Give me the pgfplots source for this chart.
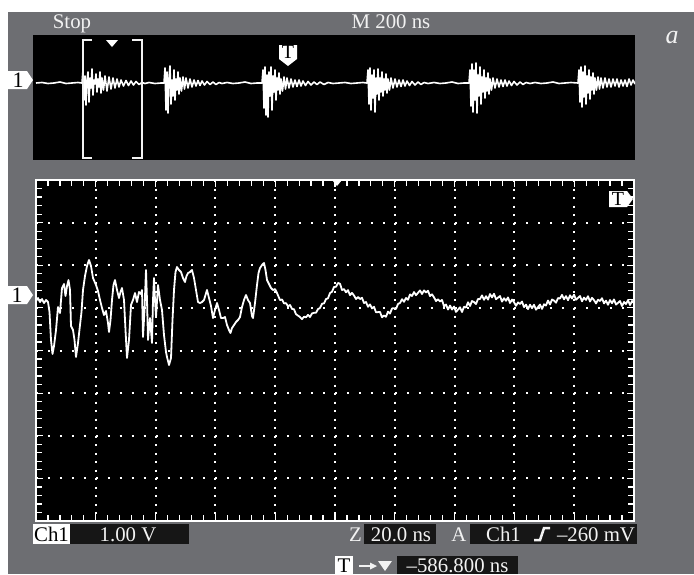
\documentclass[border=0pt]{standalone}
\usepackage{pgfplots}
\pgfplotsset{compat=1.18}
\usepackage{fontspec}
\setmainfont{Liberation Serif}
\definecolor{scopegray}{RGB}{109,110,114}
\definecolor{txt}{RGB}{242,242,242}
\definecolor{boxblk}{RGB}{22,22,22}
\begin{document}
\begin{tikzpicture}[x=0.5pt,y=-0.5pt]
\fill[white] (0,0) rectangle (694,574);
\fill[scopegray] (8,12) rectangle (694,574);
\fill[black] (33,35) rectangle (635,160);
\fill[black] (36,180) rectangle (634,521);
% ---------- upper (overview) trace ----------
\begin{axis}[at={(16.5pt,-80pt)},anchor=south west,scale only axis,
  width=301pt,height=62.5pt,xmin=33,xmax=635,ymin=35,ymax=160,
  y dir=reverse,hide axis]
\addplot[white,line width=0.8pt,line join=round] coordinates {
(36,83)(42,82.5)(48,83.5)(54,83)(60,82)(66,83.5)(72,83)(78,82.5)(82,83)
(83,70)(84,100)(85,76)(86,105)(87,80)(88,72)(89,102)(90,78)(91,88)(92,69)(93,95)(94,80)(95,84)(96,74)(97,92)(98,79)(99,87)(100,72)(101,93)(102,78)(103.5,90)(105,76)(107,91)(109,77)(111,89)(113,78)(115,88)(117,79)(119,87)(121,80)(123.5,86)(126,80.5)(128.5,85.5)(131,81)(133.5,85)(136,81.5)(139,84.5)(142,82.5)(145,83.5)
(149,82.5)(155,83.5)(161,83)(164,83)
(165,68)(166,110)(167,72)(168,113)(169,78)(170,66)(171,104)(172,80)(173,96)(174,70)(175,100)(176,79)(177,90)(178,72)(179,94)(180,78)(181.5,91)(183,77)(184.5,89)(186,78)(188,88)(190,79)(192,87)(194,80)(196,86)(198,80.5)(200,85.5)(202,81)(204.5,85)(207,81.5)(210,84.5)(213,82)(216,84.5)(219,82.5)(222,83.5)
(227,82.5)(233,83.5)(239,83)(245,82)(251,83.5)(257,83)(262,83)
(263,70)(264,108)(265,67)(266,115)(267,75)(268,117)(269,72)(270,96)(271,67)(272,110)(273,76)(274,92)(275,70)(276,100)(277,78)(278,90)(279,73)(280,94)(281,79)(282.5,91)(284,77)(285.5,89)(287,78)(289,88)(291,79)(293,87)(295,80)(297,86.5)(299,80)(301,86)(303,81)(305.5,85.5)(308,81.5)(311,85)(314,82)(317,84.5)(320,82)(324,84.5)(328,82.5)(333,83.5)
(339,83)(345,82.5)(351,83.5)(357,83)(363,82.5)(367,83)
(368,70)(369,104)(370,68)(371,110)(372,75)(373,98)(374,70)(375,112)(376,78)(377,94)(378,69)(379,100)(380,78)(381,92)(382,72)(383,96)(384,79)(385,90)(386,74)(387,93)(388,79)(389.5,90)(391,78)(393,88)(395,79)(397,87)(399,80)(401,86.5)(403,80)(405,86)(407,81)(409.5,85.5)(412,81.5)(415,85)(418,82)(421,84.5)(424,82.5)(428,83.5)
(434,82.5)(440,83.5)(446,83)(452,82)(458,83.5)(464,83)(469,83)
(470,70)(471,106)(472,64)(473,112)(474,70)(475,100)(476,63)(477,113)(478,75)(479,96)(480,67)(481,104)(482,77)(483,92)(484,70)(485,98)(486,78)(487,91)(488,73)(489,94)(490,79)(491.5,90)(493,78)(495,88)(497,79)(499,87)(501,80)(503,86.5)(505,80)(507,86)(509,81)(511.5,85.5)(514,81.5)(517,85)(520,82)(523,84.5)(526,82.5)(530,83.5)
(535,82.5)(541,83.5)(547,83)(553,82)(559,83.5)(565,83)(571,82.5)(578,83)
(579,70)(580,102)(581,67)(582,107)(583,72)(584,97)(585,66)(586,104)(587,76)(588,93)(589,70)(590,99)(591,77)(592,90)(593,73)(594,94)(595,78)(596.5,90)(598,77)(599.5,89)(601,78)(603,88)(605,78)(607,87)(609,79)(611,87)(613,79)(615,86)(617,79)(619,87)(621,80)(623,86)(625,80)(627,86.5)(629,79)(631,85)(633,80)(635,84)
};
\end{axis}
% ---------- lower (zoomed) trace ----------
\begin{axis}[at={(18pt,-260.5pt)},anchor=south west,scale only axis,
  width=299pt,height=170.5pt,xmin=36,xmax=634,ymin=180,ymax=521,y dir=reverse,
  xtick={36,95.8,155.6,215.4,275.2,335,394.8,454.6,514.4,574.2,634},
  ytick={180,222.625,265.25,307.875,350.5,393.125,435.75,478.375,521},
  minor x tick num=4, minor y tick num=4,
  xticklabels={}, yticklabels={},
  tick align=inside, xtick pos=both, ytick pos=both,
  major tick length=3.5pt, minor tick length=3pt,
  tick style={white,line width=0.6pt},
  axis line style={white,line width=1pt},
  xmajorgrids, ymajorgrids,
  grid style={white,line width=1pt},
  every axis x grid/.append style={dash pattern=on 1pt off 3.2625pt},
  every axis y grid/.append style={dash pattern=on 1pt off 4.98pt},
]
\addplot[white,line width=0.9pt,line join=round] coordinates {
(36,301)(38,298)(40,302)(42,299)(44,303)(46,300)(48,302)(49.5,312)(51,340)(52.5,354)(54,346)(56,330)(58,307)(60,313)(62,288)(64,284)(65.5,296)(67,286)(68.5,280)(70,290)(71,326)(73,330)(74.5,340)(76,357)(78,343)(80,325)(81.5,312)(83,290)(85,276)(87,266)(89,260)(91,266)(93,278)(96,285)(98,291)(100,300)(102,308)(104,315)(106,311)(108,323)(109,332)(110.5,320)(112,300)(113.5,285)(115,280)(117,290)(119,298)(120.5,292)(122,288)(124,300)(125.5,330)(127,358)(129,340)(131,305)(133,300)(135,293)(137,302)(139,292)(141,294)(142,290)(143,337)(144.5,310)(146,270)(147,300)(148,340)(150,318)(152,343)(153,300)(154,278)(155,300)(156,317)(158,285)(160,300)(162,310)(164,335)(166,352)(167,357)(169,365)(171,358)(172.5,320)(174,290)(175.5,272)(177,267)(179,270)(181,272)(183,278)(185,282)(186.5,276)(188,273)(190,272)(192,270)(194,278)(196,290)(198,302)(200,303)(202,302)(204,300)(205.5,295)(207,290)(209,298)(211,306)(213,318)(215,310)(217,303)(219,310)(221,318)(223,318)(225,317)(227,325)(229,330)(230.5,333)(232,328)(234,325)(236,322)(238,320)(240,317)(242,307)(244,300)(246,295)(248,300)(250,303)(252,316)(253,318)(255,303)(257,285)(258.5,273)(260,268)(262,265)(264,263)(265.5,270)(267,280)(269,284)(271,288)(273,290)(275,289)(277,293)
(280,300)(282,299.5)(284,303.4)(286,303.1)(288,306.3)(290,305)(292,308.9)(294,309.3)(296,314.2)(298,315.6)(300,317)(302,319.1)(304,316.7)(306,317.3)(308,314.9)(310,317)(312,313.4)(314,312.8)(316,312.7)(318,309.1)(320,308)(322,303.7)(324,303.4)(326,299.1)(328,298.3)(330,293)(332,291.75)(334,287)(336,286.75)(338,283)
(340,283.7)(342,290)(344,289.1)(346,292.3)(348,290.1)(350,295.1)(352,292.9)(354,295.5)(356,299)(358,297)(360,299)(362,297.8)(364,303)(366,302)(368,306.8)(370,304.4)(372,308.4)(374,306.8)(376,312.3)(378,312.1)(380,311.9)(382,317.3)(384,315.5)(386,316.8)(388,311.6)(390,313.6)(392,308.4)(394,308.25)(396,308.9)(398,303.95)(400,303)(402,299.2)(404,301.8)(406,298)(408,299.8)(410,294.4)(412,296)(414,292)(416,295.2)(418,292.8)(420,290.4)(422,294)(424,290.4)(426,292.5)(428,290.7)(430,296.1)(432,294.3)(434,297.3)(436,301.1)(438,299.3)
(440,301.5)(442,299.9)(444,306.3)(446,304.5)(448,309.5)(450,305.5)(452,309.5)(454,306.5)(456,311.9)(458,309.6)(460,307.3)(462,312)(464,306.75)(466,307.5)(468,302.25)(470,306)(472,301)(474,302)(476,304)(478,299)(480,299)(482,295.4)(484,299.8)(486,296.2)(488,299.6)(490,294)(492,297.4)(494,293.8)(496,299.2)(498,297.6)(500,296)(502,301.6)(504,298.2)(506,300.8)(508,297.4)(510,303)(512,299.6)(514,302.2)(516,305.8)(518,302.4)(520,304)(522,301.5)(524,307.1)(526,304.6)(528,309.1)(530,304.7)(532,308.2)(534,304.7)(536,309.7)(538,307.1)(540,304.5)(542,308.9)(544,304.3)(546,305.5)(548,300.5)(550,304.5)(552,299.5)(554,300.5)(556,302.7)(558,298.1)(560,298.5)(562,294.9)(564,299.3)(566,296.1)(568,300.2)(570,295.3)(572,298.5)(574,294.6)(576,299.7)(578,297.9)(580,296)(582,301.3)(584,297.6)(586,299.9)(588,296.2)(590,301.5)(592,297.8)(594,300.1)(596,303.4)(598,299.7)(600,301)(602,298.2)(604,303.4)(606,300.6)(608,304.8)(610,300)(612,303.2)(614,299.4)(616,304.6)(618,302.8)(620,301)(622,306)(624,302)(626,304)(628,300)(630,305)(632,301)(634,303)
};
\end{axis}
% ---------- decorations ----------
% bracket in the overview
\draw[txt,line width=0.75pt] (92,40) -- (83,40) -- (83,158) -- (92,158);
\draw[txt,line width=0.75pt] (132,40) -- (142,40) -- (142,158) -- (132,158);
\fill[white] (106,40) -- (118,40) -- (112,47) -- cycle;
% trigger markers
\fill[white] (279,45) -- (297,45) -- (297,59) -- (288,66) -- (279,59) -- cycle;
\node[anchor=base,text=black,font=\fontsize{10}{12}\selectfont,inner sep=0pt] at (288,58) {T};
\fill[white] (609,191) -- (627,191) -- (633,199) -- (627,207) -- (609,207) -- cycle;
\node[anchor=base,text=black,font=\fontsize{10}{12}\selectfont,inner sep=0pt] at (618,205) {T};
\fill[white] (332,180) -- (342,180) -- (337,186) -- cycle;
% channel markers
\fill[white] (8,71) -- (27,71) -- (33,80) -- (27,89) -- (8,89) -- cycle;
\node[anchor=base,text=black,font=\fontsize{11}{12}\selectfont,inner sep=0pt] at (18,87) {1};
\fill[white] (8,286) -- (27,286) -- (33,295) -- (27,304) -- (8,304) -- cycle;
\node[anchor=base,text=black,font=\fontsize{11}{12}\selectfont,inner sep=0pt] at (17,302) {1};
% top texts
\node[anchor=base,text=txt,font=\fontsize{10.4}{12}\selectfont,inner sep=0pt] at (72,28) {Stop};
\node[anchor=base,text=txt,font=\fontsize{10.4}{12}\selectfont,inner sep=0pt] at (391,28) {M 200 ns};
\node[anchor=base,text=txt,font=\fontsize{13}{15}\selectfont\itshape,inner sep=0pt] at (672,43) {a};
% bottom status line
\fill[white] (33,524) rectangle (70,544);
\node[anchor=base,text=black,font=\fontsize{10.4}{12}\selectfont,inner sep=0pt] at (51.5,541) {Ch1};
\fill[boxblk] (70,524) rectangle (189,544);
\node[anchor=base,text=txt,font=\fontsize{10.4}{12}\selectfont,inner sep=0pt] at (128,541) {1.00 V};
\node[anchor=base,text=txt,font=\fontsize{10.4}{12}\selectfont,inner sep=0pt] at (355.5,541) {Z};
\fill[boxblk] (364,524) rectangle (436,544);
\node[anchor=base,text=txt,font=\fontsize{10.4}{12}\selectfont,inner sep=0pt] at (401,541) {20.0 ns};
\node[anchor=base,text=txt,font=\fontsize{10.4}{12}\selectfont,inner sep=0pt] at (459,541) {A};
\fill[boxblk] (470,524) rectangle (637,544);
\node[anchor=base,text=txt,font=\fontsize{10.4}{12}\selectfont,inner sep=0pt] at (503.5,541) {Ch1};
\draw[txt,line width=1.25pt] (534,540) -- (540,540) -- (544,528) -- (550,528);
\node[anchor=base,text=txt,font=\fontsize{10.4}{12}\selectfont,inner sep=0pt] at (596,541) {–260 mV};
% bottom row
\fill[white] (335,556) rectangle (353,574);
\node[anchor=base,text=black,font=\fontsize{10.4}{12}\selectfont,inner sep=0pt] at (344,572) {T};
\draw[txt,line width=0.8pt] (359,566) -- (372,566);
\fill[txt] (370,562.5) -- (377,566) -- (370,569.5) -- cycle;
\fill[txt] (378,561) -- (392,561) -- (385,571) -- cycle;
\fill[boxblk] (397,556) rectangle (518,574);
\node[anchor=base,text=txt,font=\fontsize{10.4}{12}\selectfont,inner sep=0pt] at (457.5,572) {–586.800 ns};
\end{tikzpicture}
\end{document}
